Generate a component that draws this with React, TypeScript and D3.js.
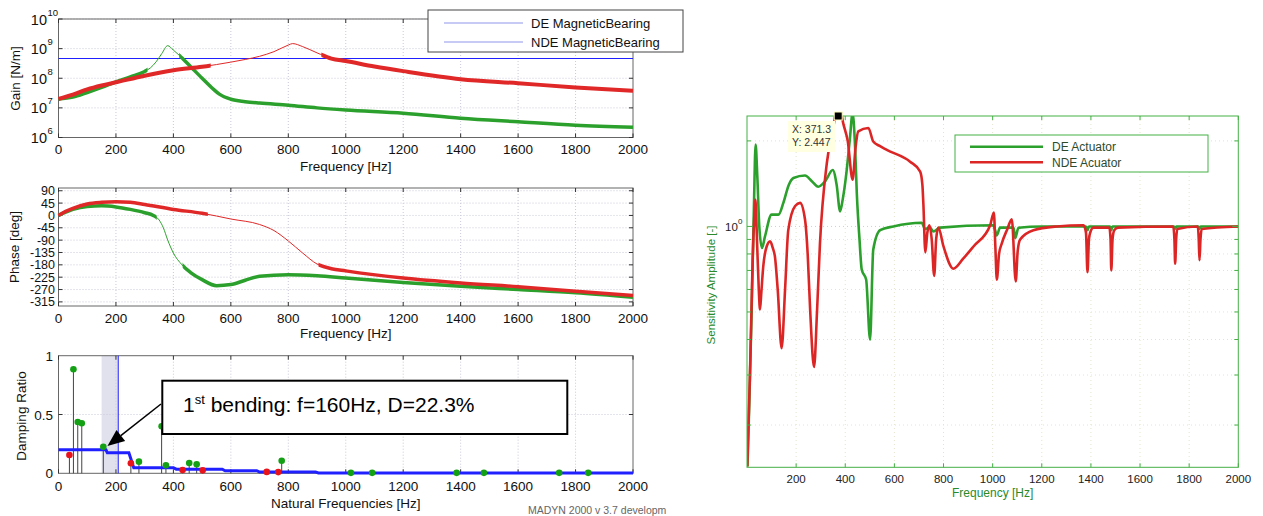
import React from 'react';
import * as d3 from 'd3';

// ---------------- data ----------------
const freqTicks = [0, 200, 400, 600, 800, 1000, 1200, 1400, 1600, 1800, 2000];

// gain of the bearing controllers [N/m]
const gainDEFreq = [0, 50, 100, 150, 200, 250, 300, 320, 340, 360, 380, 400, 420, 460, 500, 540, 560, 600, 650, 700, 800, 900, 1000, 1200, 1400, 1600, 1800, 2000];
const gainDE = [2.0e7, 2.3e7, 3.3e7, 4.9e7, 7.6e7, 1.12e8, 1.7e8, 2.24e8, 3.6e8, 6.9e8, 1.26e9, 8.9e8, 6.0e8, 2.45e8, 1.0e8, 4.2e7, 2.9e7, 1.95e7, 1.62e7, 1.45e7, 1.23e7, 1.0e7, 8.5e6, 6.6e6, 4.5e6, 3.4e6, 2.6e6, 2.2e6];
const gainNDEFreq = [0, 50, 100, 150, 200, 300, 400, 500, 600, 650, 700, 750, 800, 815, 850, 900, 950, 1000, 1100, 1200, 1400, 1600, 1800, 2000];
const gainNDE = [2.0e7, 2.8e7, 4.2e7, 5.7e7, 7.3e7, 1.22e8, 1.86e8, 2.45e8, 3.5e8, 4.3e8, 5.5e8, 7.9e8, 1.32e9, 1.48e9, 1.17e9, 7.2e8, 4.6e8, 3.8e8, 2.5e8, 1.74e8, 9.3e7, 6.8e7, 4.9e7, 3.8e7];
const gainLimit = 5e8;
const gainExponents = [6, 7, 8, 9, 10];

// phase [deg]
const phaseDEFreq = [0, 25, 50, 100, 150, 200, 250, 300, 330, 350, 365, 380, 400, 430, 460, 500, 550, 600, 650, 700, 800, 900, 1000, 1200, 1400, 1600, 1800, 2000];
const phaseDE = [0, 12, 22, 33, 35, 31, 22, 10, 0, -16, -45, -89, -137, -180, -208, -234, -256, -252, -236, -222, -216, -220, -228, -244, -258, -270, -282, -298];
const phaseNDEFreq = [0, 25, 50, 100, 150, 200, 250, 300, 400, 500, 600, 700, 750, 800, 850, 900, 950, 1000, 1200, 1400, 1600, 1800, 2000];
const phaseNDE = [0, 15, 26, 42, 48, 50, 48, 40, 22, 8, -13, -33, -55, -93, -137, -177, -194, -202, -228, -246, -260, -276, -292];
const phaseTicks = [90, 45, 0, -45, -90, -135, -180, -225, -270, -315];

// damping ratios of the natural frequencies
const dampRedFreq = [38, 252, 432, 502, 725, 765];
const dampRed = [0.155, 0.085, 0.028, 0.025, 0.012, 0.01];
const dampGreenFreq = [52, 67, 81, 156, 280, 359, 374, 455, 481, 777, 1018, 1092, 1386, 1481, 1743, 1844];
const dampGreen = [0.885, 0.436, 0.425, 0.226, 0.099, 0.4, 0.068, 0.087, 0.076, 0.107, 0.004, 0.004, 0.004, 0.004, 0.004, 0.004];
const dampStepFreq = [0, 165, 170, 245, 262, 400, 410, 570, 580, 690, 700, 895, 905, 2000];
const dampStep = [0.2, 0.2, 0.175, 0.175, 0.048, 0.048, 0.035, 0.035, 0.022, 0.022, 0.01, 0.01, 0.003, 0.003];
const dampBand = [150, 208];
const dampTicks = [0, 0.5, 1];
const bendingFreq = 160;
const bendingDamp = 0.223;

// sensitivity amplitude
const sensDEFreq = [2, 10, 19, 28, 35, 42, 50, 61, 73, 100, 128, 148, 170, 189, 236, 265, 290, 320, 349, 365, 379, 390, 403, 418, 430, 440, 447, 458, 467, 485, 501, 514, 542, 596, 711, 725, 745, 759, 786, 1002, 1010, 1017, 1030, 1085, 1092, 1105, 1200, 1380, 1386, 1392, 1478, 1483, 1488, 1738, 1743, 1748, 1837, 1842, 1847, 2000];
const sensDE = [0.143, 0.25, 0.51, 1.15, 1.94, 1.5, 1.0, 0.84, 0.92, 1.1, 1.1, 1.21, 1.4, 1.48, 1.51, 1.44, 1.38, 1.45, 1.58, 1.4, 1.13, 1.25, 1.5, 2.0, 2.5, 1.9, 1.31, 0.9, 0.705, 0.65, 0.4, 0.83, 0.97, 1.0, 1.03, 0.98, 0.99, 0.96, 0.99, 1.01, 0.97, 0.93, 0.99, 0.99, 0.91, 0.99, 1.0, 1.0, 0.97, 1.0, 1.0, 0.97, 1.0, 1.0, 0.98, 1.0, 1.0, 0.98, 1.0, 1.0];
const sensNDEFreq = [1, 6, 12, 18, 23, 29, 34, 38, 42, 48, 53, 58, 66, 80, 94, 105, 114, 125, 141, 155, 168, 196, 216, 236, 247, 257, 273, 285, 297, 325, 352, 370, 392, 410, 430, 442, 453, 494, 514, 540, 569, 664, 705, 714, 718, 726, 734, 743, 752, 762, 770, 779, 800, 840, 880, 922, 990, 1005, 1011, 1017, 1026, 1037, 1060, 1078, 1094, 1102, 1112, 1166, 1261, 1370, 1380, 1386, 1392, 1397, 1410, 1475, 1480, 1483, 1488, 1495, 1510, 1735, 1740, 1743, 1747, 1752, 1835, 1839, 1842, 1846, 1851, 2000];
const sensNDE = [0.143, 0.2, 0.3, 0.5, 0.76, 1.05, 1.24, 1.05, 0.83, 0.6, 0.51, 0.58, 0.72, 0.85, 0.886, 0.84, 0.78, 0.6, 0.373, 0.6, 0.97, 1.18, 1.21, 1.06, 0.8, 0.51, 0.32, 0.5, 0.87, 1.67, 2.25, 2.8, 2.3, 2.0, 1.46, 1.9, 2.16, 2.22, 1.99, 1.92, 1.86, 1.69, 1.56, 1.4, 1.2, 0.81, 0.95, 1.01, 0.9, 0.67, 0.9, 0.99, 0.85, 0.71, 0.77, 0.85, 1.01, 1.12, 0.85, 0.65, 0.8, 0.87, 0.98, 1.06, 0.64, 0.82, 0.9, 0.97, 1.0, 1.01, 0.95, 0.69, 0.9, 0.95, 0.99, 0.99, 0.9, 0.7, 0.9, 0.97, 0.99, 1.0, 0.9, 0.74, 0.9, 0.98, 1.0, 0.9, 0.76, 0.9, 0.98, 1.0];
const sensXTicks = [200, 400, 600, 800, 1000, 1200, 1400, 1600, 1800, 2000];
const sensYTicks = [0.2, 0.3, 0.4, 0.5, 0.6, 0.7, 0.8, 0.9, 1, 2];
const tipX = 371.3;
const tipY = 2.447;

// ---------------- styles ----------------
const FONT = "'Liberation Sans', Arial, Helvetica, sans-serif";
const GREEN = '#2ca02c';
const RED = '#e02828';
const BLUE = '#2020ff';
const FRAME = '#666';
const GRID = '#c9c9d9';
const RGREEN = '#45b045';
// frequency ranges drawn with thin line
const thinGainDE = [310, 420];
const thinGainNDE = [530, 915];
const thinPhaseDE = [342, 432];
const thinPhaseNDE = [520, 905];

// ---------------- scales ----------------
const xL = d3.scaleLinear().domain([0, 2000]).range([58.5, 633]);
const yGain = d3.scaleLog().domain([1e6, 1e10]).range([137.5, 19]);
const yPhase = d3.scaleLinear().domain([-330, 100]).range([306, 188]);
const yDamp = d3.scaleLinear().domain([0, 1]).range([473.3, 355.7]);
const xR = d3.scaleLinear().domain([0, 2000]).range([747, 1238.3]);
const yR = d3.scaleLog().domain([0.142, 2.447]).range([467.3, 116]);

function path(xs: number[], ys: number[], x: any, y: any, curve: any = d3.curveMonotoneX) {
  return d3.line<number>().x((_, i) => x(xs[i])).y((d) => y(d)).curve(curve)(ys) || '';
}

function ThickClip({ id, range, top, bottom }: { id: string; range: number[]; top: number; bottom: number }) {
  return (
    <clipPath id={id}>
      <rect x={xL(0) - 6} y={top - 6} width={xL(range[0]) - xL(0) + 6} height={bottom - top + 12} />
      <rect x={xL(range[1])} y={top - 6} width={xL(2000) - xL(range[1]) + 6} height={bottom - top + 12} />
    </clipPath>
  );
}

function LeftFrame({ top, bottom, yVals, yScale, label, labelY, tickY }: any) {
  const l = xL(0), r = xL(2000);
  return (
    <g>
      {freqTicks.slice(1, -1).map((t) => (
        <line key={'gx' + t} x1={xL(t)} x2={xL(t)} y1={top} y2={bottom} stroke={GRID} strokeDasharray="1,2" />
      ))}
      {yVals.map((v: number) => (
        <line key={'gy' + v} x1={l} x2={r} y1={yScale(v)} y2={yScale(v)} stroke={GRID} strokeDasharray="1,2" />
      ))}
      <rect x={l} y={top} width={r - l} height={bottom - top} fill="none" stroke={FRAME} />
      {freqTicks.map((t) => (
        <g key={'tx' + t}>
          <line x1={xL(t)} x2={xL(t)} y1={bottom} y2={bottom - 4} stroke="#333" />
          <line x1={xL(t)} x2={xL(t)} y1={top} y2={top + 4} stroke="#333" />
          <text x={xL(t)} y={tickY} textAnchor="middle" fontSize={13.5} fill="#111">{t}</text>
        </g>
      ))}
      {yVals.map((v: number) => (
        <g key={'ty' + v}>
          <line x1={l} x2={l + 4} y1={yScale(v)} y2={yScale(v)} stroke="#333" />
          <line x1={r} x2={r - 4} y1={yScale(v)} y2={yScale(v)} stroke="#333" />
        </g>
      ))}
      <text x={(l + r) / 2} y={labelY} textAnchor="middle" fontSize={13.5} fill="#111">{label}</text>
    </g>
  );
}

export default function App() {
  const tip = { x: xL(bendingFreq) + 3, y: yDamp(bendingDamp) - 1 };
  const start = { x: 161, y: 404 };
  const dx = tip.x - start.x, dy = tip.y - start.y, len = Math.hypot(dx, dy);
  const ux = dx / len, uy = dy / len;
  const bx = tip.x - 17 * ux, by = tip.y - 17 * uy;
  const head = `${tip.x},${tip.y} ${bx - 7 * uy},${by + 7 * ux} ${bx + 7 * uy},${by - 7 * ux}`;

  const rl = xR(0), rr = xR(2000), rt = yR(2.447), rb = yR(0.142);
  const limitY = Math.round(yGain(gainLimit)) + 0.5;

  return (
    <svg width={1263} height={516} style={{ position: 'absolute', left: 0, top: 0, background: '#fff' }} fontFamily={FONT}>
      <defs>
        <ThickClip id="thGainDE" range={thinGainDE} top={19} bottom={137.5} />
        <ThickClip id="thGainNDE" range={thinGainNDE} top={19} bottom={137.5} />
        <ThickClip id="thPhaseDE" range={thinPhaseDE} top={188} bottom={306} />
        <ThickClip id="thPhaseNDE" range={thinPhaseNDE} top={188} bottom={306} />
        <clipPath id="rightPlot">
          <rect x={rl} y={rt} width={rr - rl} height={rb - rt} />
        </clipPath>
        <clipPath id="leftFig">
          <rect x={0} y={0} width={685} height={516} />
        </clipPath>
      </defs>

      {/* ---------- gain ---------- */}
      <LeftFrame top={19} bottom={137.5} yVals={gainExponents.map((e) => Math.pow(10, e))} yScale={yGain} label="Frequency [Hz]" labelY={170.5} tickY={154} />
      {gainExponents.map((e) => (
        <g key={'ge' + e}>
          <text x={47} y={yGain(Math.pow(10, e)) + 5.5} textAnchor="end" fontSize={14.5} fill="#111">10</text>
          <text x={47.5} y={yGain(Math.pow(10, e)) - 3.5} fontSize={9.5} fill="#111">{e}</text>
        </g>
      ))}
      <text transform="translate(20,78.5) rotate(-90)" textAnchor="middle" fontSize={13.5} fill="#111">Gain [N/m]</text>
      <line x1={xL(0)} x2={xL(2000)} y1={limitY} y2={limitY} stroke={BLUE} strokeWidth={1} />
      <path d={path(gainDEFreq, gainDE, xL, yGain)} fill="none" stroke={GREEN} strokeWidth={1} />
      <path d={path(gainDEFreq, gainDE, xL, yGain)} fill="none" stroke={GREEN} strokeWidth={3.5} clipPath="url(#thGainDE)" />
      <path d={path(gainNDEFreq, gainNDE, xL, yGain)} fill="none" stroke={RED} strokeWidth={1} />
      <path d={path(gainNDEFreq, gainNDE, xL, yGain)} fill="none" stroke={RED} strokeWidth={4} clipPath="url(#thGainNDE)" />
      <g>
        <rect x={428} y={10} width={255} height={42} fill="#fff" stroke="#444" />
        <line x1={444} x2={523} y1={23} y2={23} stroke="#b4b8f2" strokeWidth={1.5} />
        <line x1={444} x2={523} y1={42} y2={42} stroke="#b4b8f2" strokeWidth={1.5} />
        <text x={531} y={27.5} fontSize={13} fill="#111">DE MagneticBearing</text>
        <text x={531} y={46.5} fontSize={13} fill="#111">NDE MagneticBearing</text>
      </g>

      {/* ---------- phase ---------- */}
      <LeftFrame top={188} bottom={306} yVals={phaseTicks} yScale={yPhase} label="Frequency [Hz]" labelY={338} tickY={322.5} />
      {phaseTicks.map((v) => (
        <text key={'pt' + v} x={55} y={yPhase(v) + 4.5} textAnchor="end" fontSize={12.5} fill="#111">{v}</text>
      ))}
      <text transform="translate(19,247) rotate(-90)" textAnchor="middle" fontSize={13.5} fill="#111">Phase [deg]</text>
      <path d={path(phaseDEFreq, phaseDE, xL, yPhase)} fill="none" stroke={GREEN} strokeWidth={1} />
      <path d={path(phaseDEFreq, phaseDE, xL, yPhase)} fill="none" stroke={GREEN} strokeWidth={3.5} clipPath="url(#thPhaseDE)" />
      <path d={path(phaseNDEFreq, phaseNDE, xL, yPhase)} fill="none" stroke={RED} strokeWidth={1} />
      <path d={path(phaseNDEFreq, phaseNDE, xL, yPhase)} fill="none" stroke={RED} strokeWidth={3.5} clipPath="url(#thPhaseNDE)" />

      {/* ---------- damping ---------- */}
      <rect x={xL(dampBand[0])} y={355.7} width={xL(dampBand[1]) - xL(dampBand[0])} height={473.3 - 355.7} fill="#e1e1ee" />
      <LeftFrame top={355.7} bottom={473.3} yVals={[0.5]} yScale={yDamp} label="Natural Frequencies [Hz]" labelY={508} tickY={490.5} />
      {dampTicks.map((v) => (
        <text key={'dt' + v} x={53} y={yDamp(v) + 5} textAnchor="end" fontSize={13.5} fill="#111">{v}</text>
      ))}
      <text transform="translate(26,416) rotate(-90)" textAnchor="middle" fontSize={13.5} fill="#111">Damping Ratio</text>
      <line x1={xL(dampBand[1])} x2={xL(dampBand[1])} y1={355.7} y2={473.3} stroke={BLUE} strokeWidth={1} />
      {dampRedFreq.map((f, i) => (
        <line key={'rs' + i} x1={xL(f)} x2={xL(f)} y1={yDamp(0)} y2={yDamp(dampRed[i])} stroke="#444" />
      ))}
      {dampGreenFreq.map((f, i) => (
        <line key={'gs' + i} x1={xL(f)} x2={xL(f)} y1={yDamp(0)} y2={yDamp(dampGreen[i])} stroke="#444" />
      ))}
      <path d={path(dampStepFreq, dampStep, xL, yDamp, d3.curveLinear)} fill="none" stroke={BLUE} strokeWidth={3} />
      {dampRedFreq.map((f, i) => (
        <circle key={'rd' + i} cx={xL(f)} cy={yDamp(dampRed[i])} r={3.3} fill="#e8141c" />
      ))}
      {dampGreenFreq.map((f, i) => (
        <circle key={'gd' + i} cx={xL(f)} cy={yDamp(dampGreen[i])} r={3.3} fill="#14a014" />
      ))}
      <rect x={162.3} y={380.7} width={405} height={53.3} fill="#fff" stroke="#000" strokeWidth={2} />
      <text x={183} y={412} fontSize={21} fill="#000">
        1<tspan dy={-8} fontSize={13}>st</tspan>
        <tspan dy={8}>{' bending: f=160Hz, D=22.3%'}</tspan>
      </text>
      <line x1={start.x} y1={start.y} x2={bx} y2={by} stroke="#000" strokeWidth={1.5} />
      <polygon points={head} fill="#000" />
      <g clipPath="url(#leftFig)">
        <text x={528} y={514} fontSize={10.5} fill="#666">MADYN 2000 v 3.7 developm</text>
      </g>

      {/* ---------- sensitivity ---------- */}
      {sensXTicks.slice(0, -1).map((t) => (
        <line key={'sgx' + t} x1={xR(t)} x2={xR(t)} y1={rt} y2={rb} stroke="#e4e4cc" strokeDasharray="1,3" />
      ))}
      {sensYTicks.map((v) => (
        <line key={'sgy' + v} x1={rl} x2={rr} y1={yR(v)} y2={yR(v)} stroke={v === 1 ? '#d0d0c0' : '#e4e4cc'} strokeDasharray="1,3" />
      ))}
      <g clipPath="url(#rightPlot)">
        <path d={path(sensDEFreq, sensDE, xR, yR)} fill="none" stroke={GREEN} strokeWidth={2.6} />
        <path d={path(sensNDEFreq, sensNDE, xR, yR)} fill="none" stroke="#dc2626" strokeWidth={2.6} />
      </g>
      <rect x={rl} y={rt} width={rr - rl} height={rb - rt} fill="none" stroke={RGREEN} />
      {sensXTicks.map((t) => (
        <g key={'stx' + t}>
          <line x1={xR(t)} x2={xR(t)} y1={rb} y2={rb - 4} stroke={RGREEN} />
          <line x1={xR(t)} x2={xR(t)} y1={rt} y2={rt + 4} stroke={RGREEN} />
          <text x={xR(t)} y={482.5} textAnchor="middle" fontSize={11.5} fill="#222">{t}</text>
        </g>
      ))}
      {sensYTicks.map((v) => (
        <g key={'sty' + v}>
          <line x1={rl} x2={rl + (v === 1 ? 6 : 4)} y1={yR(v)} y2={yR(v)} stroke={RGREEN} />
          <line x1={rr} x2={rr - (v === 1 ? 6 : 4)} y1={yR(v)} y2={yR(v)} stroke={RGREEN} />
        </g>
      ))}
      <text x={725} y={yR(1) + 4.5} fontSize={11.5} fill="#222">10</text>
      <text x={738} y={yR(1) - 2} fontSize={8} fill="#222">0</text>
      <text x={(rl + rr) / 2} y={497} textAnchor="middle" fontSize={12} fill="#2a8a2a">Frequency [Hz]</text>
      <text transform="translate(715,285) rotate(-90)" textAnchor="middle" fontSize={11.5} fill="#2a8a2a">Sensitivity Amplitude [-]</text>
      <g>
        <rect x={955} y={135} width={253} height={37} fill="#fff" stroke={RGREEN} />
        <line x1={970} x2={1043} y1={146.7} y2={146.7} stroke={GREEN} strokeWidth={2.6} />
        <line x1={970} x2={1043} y1={162.3} y2={162.3} stroke="#dc2626" strokeWidth={2.6} />
        <text x={1052} y={151} fontSize={12} fill="#2d4a2d">DE Actuator</text>
        <text x={1052} y={166.5} fontSize={12} fill="#2d4a2d">NDE Acuator</text>
      </g>
      <g>
        <rect x={788} y={121} width={47} height={31} fill="#ffffe1" />
        <text x={792} y={133} fontSize={10.5} fill="#333">{'X: ' + tipX}</text>
        <text x={792} y={145.5} fontSize={10.5} fill="#333">{'Y: ' + tipY}</text>
        <rect x={xR(tipX) - 4} y={yR(tipY) - 4} width={8} height={8} fill="#000" stroke="#ffffc0" strokeWidth={1} />
      </g>
    </svg>
  );
}
